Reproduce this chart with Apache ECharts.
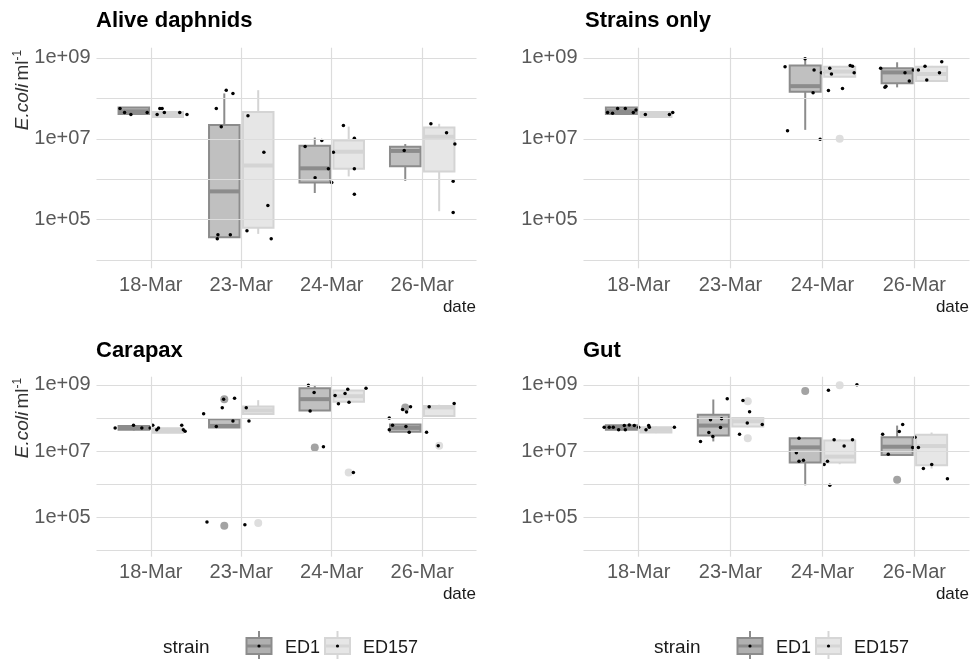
<!DOCTYPE html>
<html>
<head>
<meta charset="utf-8">
<script src="https://cdn.jsdelivr.net/npm/echarts@6/dist/echarts.min.js"></script>
<style>
  html, body { margin: 0; padding: 0; background: #ffffff; }
  #chart { width: 974px; height: 659px; }
</style>
</head>
<body>
<div id="chart"></div>
<script>
// Sampling dates (x categories) and strains
const dates = ['18-Mar', '23-Mar', '24-Mar', '26-Mar'];
const strains = ['ED1', 'ED157'];
// log10 exponents that get a tick label, and those that get a grid line
const labelledExponents = [5, 7, 9];
const gridExponents = [4, 5, 6, 7, 8, 9];

// Box summaries, log10(E. coli per ml): [min, Q1, median, Q3, max] per date (null = no samples)
const aliveED1   = [[7.60, 7.61, 7.68, 7.77, 7.78], [4.55, 4.57, 5.70, 7.34, 8.12], [5.66, 5.92, 6.27, 6.83, 7.03], [5.96, 6.32, 6.70, 6.80, 6.87]];
const aliveED157 = [[7.52, 7.54, 7.60, 7.66, 7.68], [4.65, 4.80, 6.34, 7.66, 8.20], [6.07, 6.26, 6.68, 6.96, 7.30], [5.21, 6.19, 7.05, 7.28, 7.37]];
const strainsED1   = [[7.60, 7.61, 7.68, 7.77, 7.78], null, [7.22, 8.16, 8.30, 8.81, 8.98], [8.27, 8.37, 8.64, 8.74, 8.89]];
const strainsED157 = [[7.52, 7.54, 7.60, 7.66, 7.68], null, [8.52, 8.53, 8.66, 8.78, 8.80], [8.42, 8.43, 8.60, 8.78, 8.80]];
const carapaxED1   = [[7.62, 7.64, 7.70, 7.76, 7.78], [7.70, 7.71, 7.76, 7.96, 7.97], [8.21, 8.23, 8.57, 8.90, 9.00], [7.57, 7.58, 7.70, 7.80, 7.81]];
const carapaxED157 = [[7.54, 7.55, 7.62, 7.69, 7.70], [8.11, 8.12, 8.23, 8.35, 8.54], [8.48, 8.49, 8.66, 8.83, 8.84], [8.05, 8.06, 8.32, 8.36, 8.40]];
const gutED1   = [[7.62, 7.64, 7.72, 7.78, 7.80], [7.29, 7.47, 7.77, 8.10, 8.56], [5.96, 6.65, 7.11, 7.39, 7.40], [6.86, 6.88, 7.13, 7.42, 7.77]];
const gutED157 = [[7.54, 7.56, 7.64, 7.72, 7.74], [7.72, 7.74, 7.90, 8.00, 8.02], [6.60, 6.65, 6.83, 7.32, 7.35], [6.47, 6.57, 7.15, 7.49, 7.56]];

// Outliers: [date (1-4), strain (0 = ED1, 1 = ED157), log10 value]
const aliveOutliers = [];
const strainsOutliers = [[3, 1, 7.00]];
const carapaxOutliers = [[2, 0, 8.57], [2, 0, 4.74], [2, 1, 4.82], [3, 0, 7.11], [3, 1, 6.35], [4, 0, 8.32], [4, 1, 7.16]];
const gutOutliers = [[2, 1, 8.51], [2, 1, 7.39], [3, 0, 8.82], [3, 1, 8.99], [4, 0, 6.13]];

// Individual samples: [date (1-4), jitter, log10 value]
const alivePoints = [
  [1, -0.34, 7.75], [1, -0.29, 7.65], [1, -0.22, 7.60], [1, -0.04, 7.65], [1, 0.10, 7.75], [1, 0.125, 7.75], [1, 0.07, 7.60], [1, 0.15, 7.65], [1, 0.32, 7.65], [1, 0.40, 7.60],
  [2, -0.276, 7.75], [2, -0.221, 7.30], [2, -0.166, 8.20], [2, -0.092, 8.12], [2, -0.258, 4.63], [2, -0.265, 4.53], [2, -0.121, 4.63], [2, 0.074, 7.57], [2, 0.25, 6.67], [2, 0.294, 5.35], [2, 0.063, 4.73], [2, 0.331, 4.53],
  [3, -0.294, 6.81], [3, -0.184, 6.04], [3, -0.110, 6.96], [3, -0.037, 6.26], [3, 0.0, 5.92], [3, 0.018, 6.67], [3, 0.129, 7.33], [3, 0.25, 7.01], [3, 0.25, 6.26], [3, 0.25, 5.63],
  [4, -0.199, 6.71], [4, 0.096, 7.37], [4, 0.269, 7.15], [4, 0.361, 6.87], [4, 0.342, 5.95], [4, 0.342, 5.18]
];
const strainsPoints = [
  [1, -0.338, 7.65], [1, -0.284, 7.63], [1, -0.229, 7.75], [1, -0.145, 7.75], [1, -0.058, 7.65], [1, -0.029, 7.71], [1, 0.073, 7.60], [1, 0.335, 7.60], [1, 0.371, 7.65],
  [3, -0.407, 8.78], [3, -0.38, 7.20], [3, -0.189, 8.98], [3, -0.091, 8.70], [3, -0.102, 8.14], [3, -0.011, 8.63], [3, -0.025, 6.99], [3, 0.065, 8.19], [3, 0.08, 8.74], [3, 0.098, 8.60], [3, 0.218, 8.24], [3, 0.302, 8.81], [3, 0.327, 8.79], [3, 0.345, 8.63],
  [4, -0.367, 8.74], [4, -0.309, 8.30], [4, -0.32, 8.27], [4, -0.102, 8.63], [4, -0.055, 8.43], [4, -0.011, 8.70], [4, 0.044, 8.70], [4, 0.116, 8.79], [4, 0.135, 8.45], [4, 0.273, 8.63], [4, 0.298, 8.90]
];
const carapaxPoints = [
  [1, -0.394, 7.70], [1, -0.191, 7.78], [1, -0.099, 7.70], [1, -0.007, 7.70], [1, 0.022, 7.78], [1, 0.066, 7.64], [1, 0.085, 7.70], [1, 0.342, 7.78], [1, 0.36, 7.64], [1, 0.379, 7.60],
  [2, -0.416, 8.13], [2, -0.21, 8.31], [2, -0.074, 8.60], [2, -0.276, 7.74], [2, -0.092, 7.91], [2, -0.379, 4.85], [2, 0.04, 4.77], [2, 0.055, 8.31], [2, 0.085, 7.91], [2, -0.195, 8.57],
  [3, -0.258, 8.99], [3, -0.195, 8.77], [3, -0.239, 8.21], [3, -0.092, 7.13], [3, 0.037, 8.68], [3, 0.074, 8.43], [3, 0.147, 8.74], [3, 0.177, 8.87], [3, 0.191, 8.48], [3, 0.379, 8.90], [3, 0.239, 6.35],
  [4, -0.364, 8.00], [4, -0.328, 7.78], [4, -0.364, 7.64], [4, -0.18, 7.74], [4, -0.217, 8.26], [4, -0.173, 8.18], [4, -0.129, 8.34], [4, -0.144, 7.57], [4, 0.048, 7.57], [4, 0.077, 8.34], [4, 0.177, 7.16], [4, 0.353, 8.44]
];
const gutPoints = [
  [1, -0.375, 7.72], [1, -0.32, 7.72], [1, -0.276, 7.72], [1, -0.218, 7.64], [1, -0.156, 7.77], [1, -0.145, 7.64], [1, -0.102, 7.79], [1, -0.047, 7.77], [1, 0.0, 7.72], [1, 0.08, 7.64], [1, 0.109, 7.77], [1, 0.116, 7.72], [1, 0.389, 7.72],
  [2, -0.327, 7.29], [2, -0.218, 7.95], [2, -0.098, 7.98], [2, -0.109, 7.71], [2, -0.236, 7.56], [2, -0.193, 7.44], [2, -0.036, 8.58], [2, 0.135, 8.53], [2, 0.207, 8.19], [2, 0.182, 7.85], [2, 0.098, 7.51], [2, 0.345, 7.80],
  [3, -0.255, 7.39], [3, -0.284, 6.95], [3, -0.255, 6.69], [3, -0.207, 6.72], [3, 0.065, 8.84], [3, 0.018, 6.59], [3, 0.055, 6.69], [3, 0.08, 5.96], [3, 0.127, 7.34], [3, 0.236, 7.15], [3, 0.327, 7.34], [3, 0.375, 9.01],
  [4, -0.345, 7.51], [4, -0.284, 6.90], [4, -0.164, 7.59], [4, -0.127, 7.80], [4, 0.007, 7.42], [4, -0.018, 7.11], [4, 0.044, 7.11], [4, 0.098, 6.47], [4, 0.189, 6.59], [4, 0.36, 6.16]
];

const panelTitles = ['Alive daphnids', 'Strains only', 'Carapax', 'Gut'];
const panelBoxes = [[aliveED1, aliveED157], [strainsED1, strainsED157], [carapaxED1, carapaxED157], [gutED1, gutED157]];
const panelOutliers = [aliveOutliers, strainsOutliers, carapaxOutliers, gutOutliers];
const panelPoints = [alivePoints, strainsPoints, carapaxPoints, gutPoints];

// ---- layout & styling ----
const FONT = '"Liberation Sans", Arial, sans-serif';
const grids = [
  { left: 96.5, top: 47.7, width: 380, height: 220.6, labelPad: 7, xMargin: 7 },
  { left: 583.5, top: 47.7, width: 386, height: 220.6, labelPad: 5, xMargin: 7 },
  { left: 96.5, top: 376.7, width: 380, height: 180, labelPad: 4, xMargin: 6 },
  { left: 583.5, top: 376.7, width: 386, height: 180, labelPad: 4, xMargin: 6 }
];
const titlePos = [[96, 10], [585, 10], [96, 340], [583, 340]];
const dodge = [-0.1875, 0.1875];
const BOX_WIDTH = 0.3375;
const strainStyle = [
  { stroke: '#8c8c8c', fill: 'rgba(140,140,140,0.55)', outlier: '#a3a3a3' },
  { stroke: '#d4d4d4', fill: 'rgba(205,205,205,0.5)', outlier: '#dedede' }
];
const gridLineStyle = { color: '#dcdcdc', width: 1.2, type: 'solid' };

function renderBox(strain) {
  const st = strainStyle[strain];
  return function (params, api) {
    const x = api.value(0);
    const c = [1, 2, 3, 4, 5].map(k => api.coord([x, api.value(k)]));
    const half = api.size([BOX_WIDTH, 0])[0] / 2;
    const cx = c[0][0];
    const line = { stroke: st.stroke, lineWidth: 2 };
    return {
      type: 'group',
      children: [
        { type: 'line', shape: { x1: cx, y1: c[4][1], x2: cx, y2: c[3][1] }, style: line },
        { type: 'line', shape: { x1: cx, y1: c[1][1], x2: cx, y2: c[0][1] }, style: line },
        { type: 'rect', shape: { x: cx - half, y: c[3][1], width: 2 * half, height: c[1][1] - c[3][1] },
          style: { fill: st.fill, stroke: st.stroke, lineWidth: 2 } },
        { type: 'line', shape: { x1: cx - half, y1: c[2][1], x2: cx + half, y2: c[2][1] },
          style: { stroke: st.stroke, lineWidth: 4 } }
      ]
    };
  };
}

const option = {
  animation: false,
  backgroundColor: '#ffffff',
  textStyle: { fontFamily: FONT },
  title: panelTitles.map((t, i) => ({
    text: t, left: titlePos[i][0], top: titlePos[i][1], padding: 0,
    textStyle: { fontSize: 22, fontWeight: 'bold', color: '#000000', fontFamily: FONT }
  })),
  grid: grids.map(g => ({ left: g.left, top: g.top, width: g.width, height: g.height, containLabel: false })),
  xAxis: grids.map((g, i) => ({
    type: 'value', gridIndex: i, min: 0.4, max: 4.6,
    axisLine: { show: false }, axisTick: { show: false }, splitLine: { show: false },
    axisLabel: {
      customValues: [1, 2, 3, 4], margin: g.xMargin,
      formatter: v => dates[Math.round(v) - 1] || '',
      fontSize: 20, color: '#595959', fontFamily: FONT
    }
  })),
  yAxis: grids.map((g, i) => ({
    type: 'value', gridIndex: i, min: 3.8, max: 9.25,
    axisLine: { show: false }, axisTick: { show: false }, splitLine: { show: false },
    axisLabel: {
      customValues: labelledExponents, margin: 6, padding: [g.labelPad, 0, 0, 0],
      formatter: v => '1e+' + String(Math.round(v)).padStart(2, '0'),
      fontSize: 20, color: '#595959', fontFamily: FONT
    }
  })),
  series: [],
  graphic: []
};

panelTitles.forEach((_, i) => {
  // panel grid lines
  option.series.push({
    type: 'scatter', xAxisIndex: i, yAxisIndex: i, data: [], z: 0, silent: true,
    markLine: {
      silent: true, symbol: 'none', label: { show: false }, lineStyle: gridLineStyle,
      emphasis: { disabled: true },
      data: gridExponents.map(e => ({ yAxis: e })).concat(dates.map((d, k) => ({ xAxis: k + 1 })))
    }
  });
  [0, 1].forEach(s => {
    const boxes = panelBoxes[i][s];
    const data = [];
    boxes.forEach((b, d) => { if (b) data.push([d + 1 + dodge[s]].concat(b)); });
    option.series.push({
      type: 'custom', name: strains[s], xAxisIndex: i, yAxisIndex: i, z: 2, silent: true,
      renderItem: renderBox(s), encode: { x: 0, y: [1, 2, 3, 4, 5] }, data: data
    });
    option.series.push({
      type: 'scatter', xAxisIndex: i, yAxisIndex: i, z: 3, silent: true, symbolSize: 8,
      itemStyle: { color: strainStyle[s].outlier, opacity: 1 },
      data: panelOutliers[i].filter(o => o[1] === s).map(o => [o[0] + dodge[s], o[2]])
    });
  });
  option.series.push({
    type: 'scatter', xAxisIndex: i, yAxisIndex: i, z: 4, silent: true, symbolSize: 3.5,
    itemStyle: { color: '#000000', opacity: 1 },
    data: panelPoints[i].map(p => [p[0] + p[1], p[2]])
  });
});

// x-axis titles
const dateTitlePos = [[476, 307], [969, 307], [476, 594], [969, 594]];
dateTitlePos.forEach(p => option.graphic.push({
  type: 'text', x: p[0], y: p[1], silent: true,
  style: { text: 'date', align: 'right', verticalAlign: 'middle', fontSize: 17, fill: '#1a1a1a', fontFamily: FONT }
}));

// y-axis titles (left column)
[[23, 90], [23, 418]].forEach(p => option.graphic.push({
  type: 'text', x: p[0], y: p[1], rotation: Math.PI / 2, silent: true,
  style: {
    text: '{i|E.coli} {n|ml}{s|-1}', align: 'center', verticalAlign: 'middle',
    fontFamily: FONT, fill: '#333333',
    rich: {
      i: { fontSize: 19, fontStyle: 'italic', fill: '#333333', fontFamily: FONT },
      n: { fontSize: 19, fill: '#333333', fontFamily: FONT },
      s: { fontSize: 12, fill: '#333333', fontFamily: FONT, verticalAlign: 'top', padding: [0, 0, 10, 0] }
    }
  }
}));

// legends under each column
function legendKey(x, y, s) {
  const st = strainStyle[s];
  const fill = s === 0 ? '#b0b0b0' : '#e6e6e6';
  const stroke = s === 0 ? '#8c8c8c' : '#d6d6d6';
  return {
    type: 'group', x: x, y: y, silent: true,
    children: [
      { type: 'line', shape: { x1: 12.5, y1: -15, x2: 12.5, y2: -8 }, style: { stroke: stroke, lineWidth: 2 } },
      { type: 'line', shape: { x1: 12.5, y1: 8, x2: 12.5, y2: 15 }, style: { stroke: stroke, lineWidth: 2 } },
      { type: 'rect', shape: { x: 0, y: -8, width: 25, height: 16 }, style: { fill: fill, stroke: stroke, lineWidth: 2 } },
      { type: 'line', shape: { x1: 0, y1: 0, x2: 25, y2: 0 }, style: { stroke: stroke, lineWidth: 3 } },
      { type: 'circle', shape: { cx: 12.5, cy: 0, r: 1.6 }, style: { fill: '#000000' } }
    ]
  };
}
[0, 491].forEach(dx => {
  option.graphic.push({ type: 'text', x: 163 + dx, y: 648, silent: true,
    style: { text: 'strain', verticalAlign: 'middle', fontSize: 19, fill: '#1a1a1a', fontFamily: FONT } });
  option.graphic.push(legendKey(246.5 + dx, 646, 0));
  option.graphic.push({ type: 'text', x: 285 + dx, y: 648, silent: true,
    style: { text: strains[0], verticalAlign: 'middle', fontSize: 18, fill: '#1a1a1a', fontFamily: FONT } });
  option.graphic.push(legendKey(325 + dx, 646, 1));
  option.graphic.push({ type: 'text', x: 363 + dx, y: 648, silent: true,
    style: { text: strains[1], verticalAlign: 'middle', fontSize: 18, fill: '#1a1a1a', fontFamily: FONT } });
});

const chart = echarts.init(document.getElementById('chart'), null, { renderer: 'canvas' });
chart.setOption(option);
</script>
</body>
</html>
